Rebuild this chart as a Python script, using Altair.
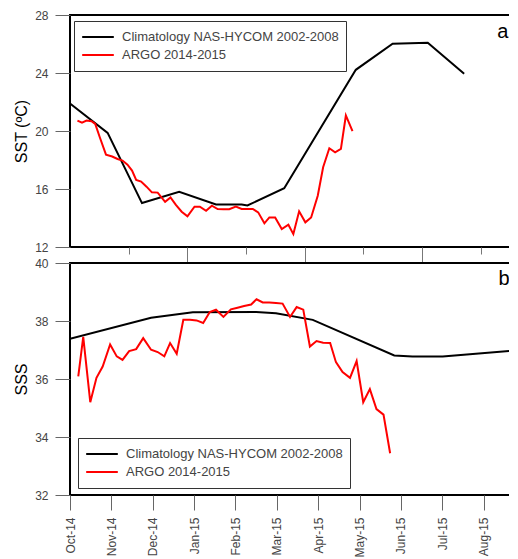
import altair as alt
import pandas as pd

# ---------------- data (x = months since 1 Oct 2014) ----------------
month_labels = ["Oct-14", "Nov-14", "Dec-14", "Jan-15", "Feb-15", "Mar-15",
                "Apr-15", "May-15", "Jun-15", "Jul-15", "Aug-15", "Sep-15"]
series_names = ["Climatology NAS-HYCOM 2002-2008", "ARGO 2014-2015"]
series_colors = ["#000000", "#ff0000"]

sst_clim_t = [0.0, 0.91, 1.74, 2.64, 3.53, 4.15, 4.29, 5.18, 6.91, 7.80, 8.65, 9.53]
sst_clim_v = [21.9, 19.87, 15.03, 15.8, 14.93, 14.93, 14.86, 16.05, 24.22, 26.02, 26.09, 23.95]

sst_argo_t = [0.18, 0.29, 0.40, 0.52, 0.61, 0.72, 0.87, 1.02, 1.15, 1.27, 1.39, 1.50,
              1.60, 1.72, 1.85, 1.98, 2.12, 2.30, 2.43, 2.56, 2.70, 2.84, 3.01, 3.14,
              3.29, 3.43, 3.57, 3.71, 3.85, 4.01, 4.15, 4.28, 4.42, 4.55, 4.70, 4.82,
              4.96, 5.12, 5.28, 5.40, 5.54, 5.69, 5.83, 5.99, 6.12, 6.27, 6.41, 6.55,
              6.67, 6.83]
sst_argo_v = [20.72, 20.58, 20.72, 20.68, 20.49, 19.57, 18.37, 18.24, 18.07, 17.96, 17.68, 17.27,
              16.62, 16.51, 16.16, 15.77, 15.75, 15.12, 15.42, 14.90, 14.43, 14.11, 14.78, 14.78,
              14.50, 14.85, 14.62, 14.60, 14.60, 14.78, 14.62, 14.62, 14.62, 14.39, 13.63, 14.04,
              14.04, 13.24, 13.54, 12.89, 14.46, 13.70, 14.04, 15.54, 17.50, 18.81, 18.53, 18.76,
              21.07, 19.99]

sss_clim_t = [0.0, 1.96, 2.97, 4.50, 4.98, 5.87, 7.84, 8.28, 9.01, 11.1]
sss_clim_v = [37.39, 38.11, 38.30, 38.31, 38.27, 38.04, 36.81, 36.78, 36.78, 37.02]

sss_argo_t = [0.20, 0.32, 0.49, 0.64, 0.79, 0.97, 1.13, 1.27, 1.43, 1.60, 1.77, 1.96,
              2.12, 2.28, 2.42, 2.58, 2.74, 2.90, 3.06, 3.22, 3.38, 3.53, 3.71, 3.89,
              4.05, 4.21, 4.38, 4.51, 4.66, 4.82, 4.98, 5.14, 5.32, 5.48, 5.64, 5.80,
              5.96, 6.12, 6.29, 6.43, 6.59, 6.77, 6.93, 7.09, 7.25, 7.41, 7.58, 7.74]
sss_argo_v = [36.09, 37.45, 35.20, 36.04, 36.43, 37.19, 36.78, 36.66, 36.96, 37.03, 37.41, 37.01,
              36.93, 36.78, 37.24, 36.87, 38.04, 38.04, 38.02, 37.93, 38.31, 38.39, 38.14, 38.40,
              38.46, 38.52, 38.57, 38.75, 38.64, 38.64, 38.62, 38.60, 38.14, 38.48, 38.39, 37.12,
              37.31, 37.25, 37.24, 36.58, 36.24, 36.04, 36.62, 35.20, 35.65, 34.96, 34.77, 33.44]

sst_ticks = [12, 14, 16, 18, 20, 22, 24, 26, 28]
sss_ticks = [32, 33, 34, 35, 36, 37, 38, 39, 40]
top_x_ticks = [round(1.419 * k, 3) for k in range(1, 8)]
bottom_x_ticks = [k / 2 for k in range(0, 22)]

# ---------------- build tables ----------------
def make_df(ct, cv, at, av):
    a = pd.DataFrame({"t": ct, "v": cv, "series": series_names[0]})
    b = pd.DataFrame({"t": at, "v": av, "series": series_names[1]})
    return pd.concat([a, b], ignore_index=True)

sst_df = make_df(sst_clim_t, sst_clim_v, sst_argo_t, sst_argo_v)
sss_df = make_df(sss_clim_t, sss_clim_v, sss_argo_t, sss_argo_v)

W = 452
X_MAX = W / 41.36
H = 232
FONT = "Liberation Sans"

color_scale = alt.Scale(domain=series_names, range=series_colors)


def legend(x, y):
    return alt.Legend(
        title=None, orient="none", legendX=x, legendY=y,
        fillColor="white", strokeColor="#333333", padding=7,
        symbolType="stroke", symbolSize=1000, symbolStrokeWidth=2,
        labelFont=FONT, labelFontSize=13, labelColor="#444444", labelLimit=400,
        labelOffset=7, clipHeight=18, rowPadding=0,
    )

label_expr = "datum.value % 1 === 0 ? " + str(month_labels) + "[datum.value] : ''"

top_x_axis = alt.Axis(
    values=top_x_ticks, labels=False, title=None, domain=False, grid=False,
    tickColor="#777777",
    tickSize={"condition": {"test": "round(datum.value / 1.419) % 2 === 0", "value": 16}, "value": 7},
)
bottom_x_axis = alt.Axis(
    values=bottom_x_ticks, title=None, domain=False, grid=False,
    labelExpr=label_expr, labelAngle=270, labelPadding=7,
    tickColor="#666666",
    tickSize={"condition": {"test": "datum.value % 1 === 0", "value": 15}, "value": 6},
)


def y_axis(title, vals, major_mod):
    return alt.Axis(
        title=title, values=vals, domain=False, grid=False,
        labelExpr=f"datum.value % {major_mod} === 0 ? datum.label : ''",
        tickColor="#666666", labelPadding=7, titlePadding=5,
        titleFont=FONT, titleFontSize=16, titleFontWeight="normal", titleColor="#000000",
        tickSize={"condition": {"test": f"datum.value % {major_mod} === 0", "value": 15}, "value": 8},
    )


top_lines = alt.Chart(sst_df).mark_line(strokeWidth=2, clip=True).encode(
    x=alt.X("t:Q", scale=alt.Scale(domain=[0, X_MAX], nice=False, zero=False), axis=top_x_axis),
    y=alt.Y("v:Q", scale=alt.Scale(domain=[12, 28], nice=False, zero=False),
            axis=y_axis("SST (ºC)", sst_ticks, 4)),
    color=alt.Color("series:N", scale=color_scale, legend=legend(4, 6)),
)
top_label = alt.Chart().mark_text(
    text="a", align="left", baseline="alphabetic", fontSize=20, font=FONT, color="black", clip=True
).encode(x=alt.datum(10.33), y=alt.datum(26.4))
top = alt.layer(top_lines, top_label).properties(width=W, height=H)

bottom_lines = alt.Chart(sss_df).mark_line(strokeWidth=2, clip=True).encode(
    x=alt.X("t:Q", scale=alt.Scale(domain=[0, X_MAX], nice=False, zero=False), axis=bottom_x_axis),
    y=alt.Y("v:Q", scale=alt.Scale(domain=[32, 40], nice=False, zero=False),
            axis=y_axis("SSS", sss_ticks, 2)),
    color=alt.Color("series:N", scale=color_scale, legend=legend(8, 175)),
)
bottom_label = alt.Chart().mark_text(
    text="b", align="left", baseline="alphabetic", fontSize=20, font=FONT, color="black", clip=True
).encode(x=alt.datum(10.36), y=alt.datum(39.23))
bottom = alt.layer(bottom_lines, bottom_label).properties(width=W, height=H)

chart = (
    alt.vconcat(top, bottom, spacing=16, bounds="flush")
    .resolve_scale(color="independent", x="independent", y="independent")
    .resolve_legend(color="independent")
    .properties(padding={"left": 4, "top": 0, "right": -14, "bottom": 0})
    .configure_view(stroke="#000000", strokeWidth=2)
    .configure_axis(labelFont=FONT, labelFontSize=12, labelColor="#444444")
)

chart.save("out.html", embed_options={"renderer": "svg", "actions": False})
